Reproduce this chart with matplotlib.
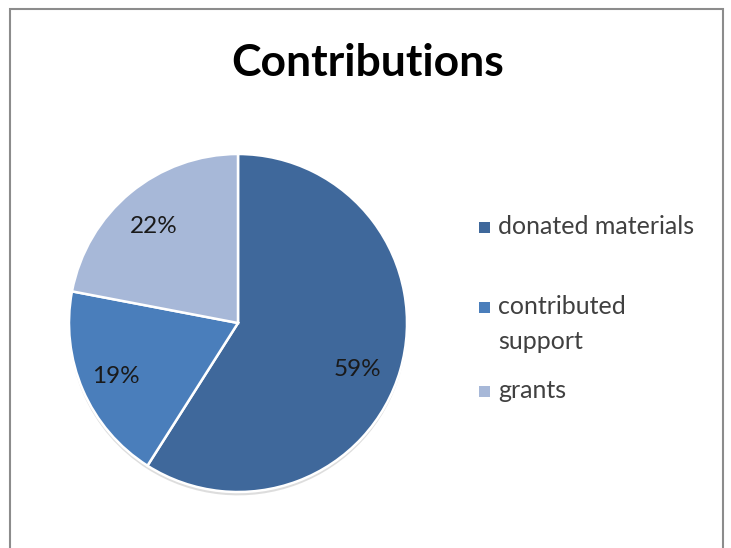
import numpy as np
import matplotlib.pyplot as plt
from matplotlib.patches import Rectangle

# chart data
labels = ['donated materials', 'contributed\nsupport', 'grants']
shares = [59, 19, 22]
colors = ['#3F689B', '#4A7EBB', '#A7B8D8']

# label placement (distance from centre, angle nudge in degrees) as in the original
pct_dist = [0.76, 0.79, 0.755]
pct_shift = [-5.0, 0.0, 1.5]

plt.rcParams['font.family'] = ['Lato', 'DejaVu Sans']

fig = plt.figure(figsize=(7.31, 5.48), dpi=100)

# outer frame of the chart area
fig.patches.append(Rectangle((10 / 731, -0.05), 713 / 731, 1.05 - 9 / 548,
                             transform=fig.transFigure, fill=False,
                             edgecolor='#8c8c8c', linewidth=1.5))

fig.text(368 / 731, 1 - 63 / 548, 'Contributions', ha='center', va='center',
         fontsize=32, fontweight='bold', color='black')

# square axes holding the pie, centred at (238, 323) px, radius 169 px
r_px = 169
ax = fig.add_axes([(238 - r_px) / 731, (548 - 323 - r_px) / 548,
                   2 * r_px / 731, 2 * r_px / 548])

# soft shadow under the pie
shadow, _ = ax.pie(shares, colors=['#bdbdbd'] * 3, startangle=90,
                   counterclock=False, radius=1.0, center=(0.0, -0.02),
                   wedgeprops=dict(linewidth=0))
for w in shadow:
    w.set_alpha(0.5)
    w.set_clip_on(False)

wedges, texts, autotexts = ax.pie(
    shares, colors=colors, startangle=90, counterclock=False,
    autopct='%.0f%%', pctdistance=1.0,
    wedgeprops=dict(edgecolor='white', linewidth=1.8),
    textprops=dict(fontsize=17.5, color='#1a1a1a'))
for w in wedges:
    w.set_clip_on(False)

for w, t, d, s in zip(wedges, autotexts, pct_dist, pct_shift):
    ang = np.deg2rad((w.theta1 + w.theta2) / 2 + s)
    t.set_position((d * np.cos(ang), d * np.sin(ang)))

ax.set_xlim(-1, 1)
ax.set_ylim(-1, 1)
ax.set_aspect('equal')
ax.axis('off')

# legend, drawn entry by entry to follow the original spacing
leg_base = [234, 314, 398]
for w, lab, y in zip(wedges, labels, leg_base):
    fig.patches.append(Rectangle((479 / 731, 1 - (y - 1) / 548), 11 / 731, 11 / 548,
                                 transform=fig.transFigure,
                                 facecolor=w.get_facecolor(), edgecolor='none'))
    first, *rest = lab.split('\n')
    fig.text(498 / 731, 1 - y / 548, first, ha='left', va='baseline',
             fontsize=18, color='#404040')
    for i, line in enumerate(rest, start=1):
        fig.text(498 / 731, 1 - (y + 35 * i) / 548, line, ha='left',
                 va='baseline', fontsize=18, color='#404040')

fig.savefig('out.png', dpi=100)
